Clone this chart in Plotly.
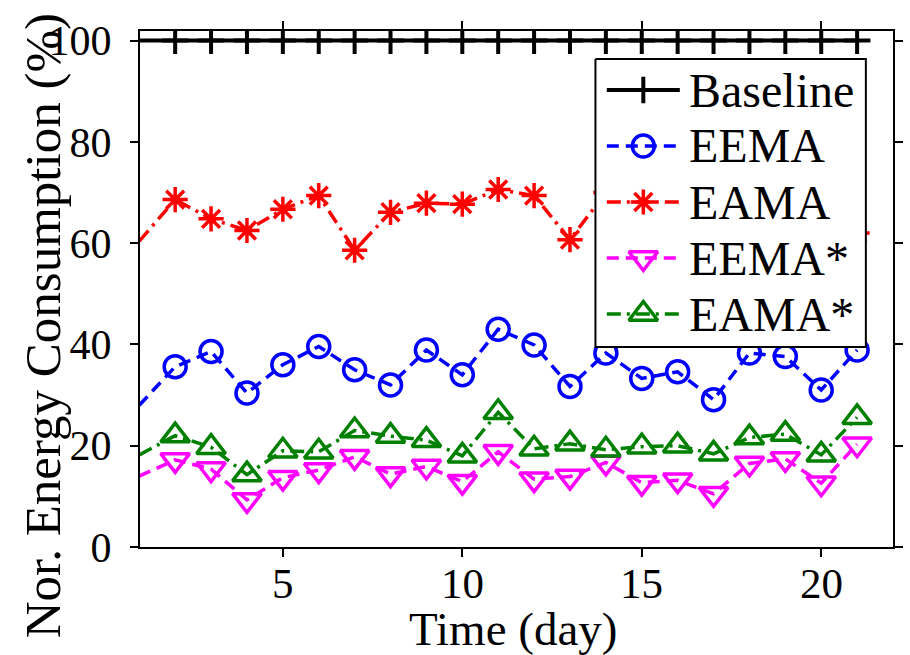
import plotly.graph_objects as go

# ---- data -------------------------------------------------------------
days = [1, 2, 3, 4, 5, 6, 7, 8, 9, 10, 11, 12, 13, 14, 15, 16, 17, 18, 19, 20, 21]
baseline = [100, 100, 100, 100, 100, 100, 100, 100, 100, 100, 100,
            100, 100, 100, 100, 100, 100, 100, 100, 100, 100]
eema = [28.0, 35.6, 38.6, 30.4, 36.0, 39.6, 35.0, 32.0, 38.9, 34.0, 43.0,
        39.9, 31.7, 38.3, 33.3, 34.6, 29.1, 38.3, 37.6, 31.0, 38.9]
eama = [60.4, 68.6, 64.8, 62.5, 66.7, 69.4, 58.6, 66.1, 67.9, 67.7, 70.6,
        69.4, 60.7, 70.0, 66.5, 64.0, 67.5, 65.0, 68.0, 63.5, 62.0]
eema_star = [14.0, 17.2, 15.4, 9.3, 13.7, 15.2, 17.8, 14.4, 15.9, 12.9, 18.8,
             13.4, 13.9, 16.7, 12.7, 13.2, 10.5, 16.5, 17.4, 12.6, 20.3]
eama_star = [18.2, 22.0, 19.7, 14.3, 19.0, 18.8, 23.0, 21.9, 21.1, 18.0, 26.6,
             19.4, 20.4, 19.2, 19.8, 20.0, 18.4, 21.6, 22.3, 18.2, 25.6]

x_ticks = [5, 10, 15, 20]
y_ticks = [0, 20, 40, 60, 80, 100]
x_range = [1.02, 22]
y_range = [0, 101.9]

# ---- page geometry ------------------------------------------------------
W, H = 910, 655
ML, MR, MT, MB = 140, 7, 31, 108
PW, PH = W - ML - MR, H - MT - MB
SERIF = "'Liberation Serif', 'Times New Roman', Times, 'DejaVu Serif', serif"


def fx(px):
    return (px - ML) / PW


def fy(py):
    return (H - MB - py) / PH


DASH = "12px,7px"
DASHDOT = "14px,6px,3px,6px"

series = [
    dict(name="Baseline", y=baseline, color="black", dash="solid", width=4,
         symbol="cross-thin-open", size=19, mlw=4),
    dict(name="EEMA", y=eema, color="#0000FF", dash=DASH, width=3.5,
         symbol="circle-open", size=22, mlw=3.5),
    dict(name="EAMA", y=eama, color="#FF0000", dash=DASHDOT, width=3.5,
         symbol="asterisk-open", size=21, mlw=3.5),
    dict(name="EEMA*", y=eema_star, color="#FF00FF", dash=DASH, width=3.5,
         symbol="triangle-down-open", size=25, mlw=3.5),
    dict(name="EAMA*", y=eama_star, color="#008000", dash=DASHDOT, width=3.5,
         symbol="triangle-up-open", size=25, mlw=3.5),
]

fig = go.Figure()

# markers are only drawn for days inside the visible x range
for s in series:
    sizes = [s["size"] if d >= x_range[0] else 0 for d in days]
    fig.add_trace(go.Scatter(
        x=days, y=s["y"], mode="lines+markers", name=s["name"],
        line=dict(color=s["color"], width=s["width"], dash=s["dash"]),
        marker=dict(symbol=s["symbol"], size=sizes, color=s["color"],
                    opacity=1,
                    line=dict(color=s["color"], width=s["mlw"])),
        showlegend=False, cliponaxis=True,
    ))

# ---- legend drawn on an overlay of unit axes -----------------------------
box_l, box_r, box_t, box_b = 601.5, 875.5, 59, 347
fig.add_trace(go.Scatter(
    x=[fx(box_l), fx(box_r), fx(box_r), fx(box_l), fx(box_l)],
    y=[fy(box_t), fy(box_t), fy(box_b), fy(box_b), fy(box_t)],
    xaxis="x2", yaxis="y2", mode="lines", fill="toself",
    fillcolor="white", line=dict(color="black", width=2),
    hoverinfo="skip", showlegend=False,
))

row_y = [90, 146, 202, 258, 314]
line_x0, line_x1, mark_x, text_x = 613, 687, 650, 694
annotations = []
for s, ry in zip(series, row_y):
    fig.add_trace(go.Scatter(
        x=[fx(line_x0), fx(line_x1)], y=[fy(ry), fy(ry)],
        xaxis="x2", yaxis="y2", mode="lines",
        line=dict(color=s["color"], width=s["width"], dash=s["dash"]),
        hoverinfo="skip", showlegend=False,
    ))
    fig.add_trace(go.Scatter(
        x=[fx(mark_x)], y=[fy(ry)], xaxis="x2", yaxis="y2", mode="markers",
        marker=dict(symbol=s["symbol"], size=s["size"], color=s["color"],
                    line=dict(color=s["color"], width=s["mlw"])),
        hoverinfo="skip", showlegend=False,
    ))
    annotations.append(dict(
        x=fx(text_x), y=fy(ry), xref="paper", yref="paper",
        text=s["name"], showarrow=False, xanchor="left", yanchor="middle",
        font=dict(family=SERIF, size=48, color="black"),
    ))

# x tick labels, placed at the tick values on the x scale
for t in x_ticks:
    annotations.append(dict(
        x=t, y=fy(558), xref="x", yref="paper", text=str(t),
        showarrow=False, xanchor="center", yanchor="top",
        font=dict(family=SERIF, size=43, color="black"),
    ))

# axis titles
annotations.append(dict(
    x=fx(518), y=fy(601), xref="paper", yref="paper", text="Time (day)",
    showarrow=False, xanchor="center", yanchor="top",
    font=dict(family=SERIF, size=47, color="black"),
))
annotations.append(dict(
    x=fx(42), y=fy(326), xref="paper", yref="paper",
    text="Nor. Energy Consumption (%)", textangle=-90,
    showarrow=False, xanchor="center", yanchor="middle",
    font=dict(family=SERIF, size=51, color="black"),
))

axis_common = dict(
    showline=True, linecolor="black", linewidth=2, mirror="ticks",
    ticks="outside", ticklen=8, tickwidth=2, tickcolor="black",
    showgrid=False, zeroline=False,
    tickfont=dict(family=SERIF, size=42, color="black"),
)

fig.update_layout(
    width=W, height=H, autosize=False,
    margin=dict(l=ML, r=MR, t=MT, b=MB, pad=0),
    paper_bgcolor="white", plot_bgcolor="white",
    font=dict(family=SERIF, color="black"),
    xaxis=dict(range=x_range, tickvals=x_ticks, showticklabels=False,
               **axis_common),
    yaxis=dict(range=y_range, tickvals=y_ticks, ticklabelstandoff=10,
               **axis_common),
    xaxis2=dict(overlaying="x", range=[0, 1], visible=False, fixedrange=True),
    yaxis2=dict(overlaying="y", range=[0, 1], visible=False, fixedrange=True),
    annotations=annotations,
    showlegend=False,
)

fig.write_html("out.html")
